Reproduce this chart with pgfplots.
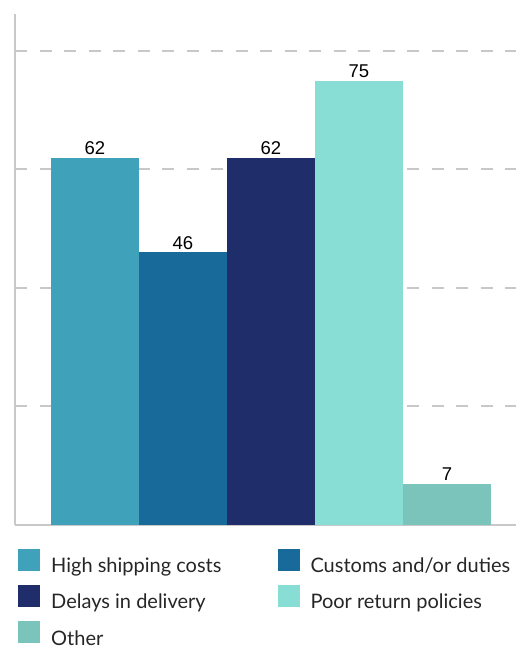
\documentclass[border=0pt]{standalone}
\usepackage{pgfplots}
\pgfplotsset{compat=1.18}
\usepackage{fontspec}
\setmainfont{Lato}
\newfontfamily\numfont{Liberation Sans}
\definecolor{c1}{HTML}{40A1BA}
\definecolor{c2}{HTML}{186A9A}
\definecolor{c3}{HTML}{1F2E6B}
\definecolor{c4}{HTML}{88DDD5}
\definecolor{c5}{HTML}{7AC4BC}
\definecolor{axgray}{HTML}{C8C8C8}
\begin{document}
\begin{tikzpicture}
\path[use as bounding box] (0,0) rectangle (516bp,648bp);
\begin{axis}[
  at={(15bp,123bp)}, anchor=south west,
  x=88bp, y=5.925bp,
  xmin=-0.909, xmax=4.78, ymin=0, ymax=86.2,
  axis x line=bottom, axis y line=left,
  axis line style={-, draw=axgray, line width=2.2bp},
  xtick=\empty,
  ytick={20,40,60,80}, yticklabels={}, major tick length=0pt,
  ymajorgrids,
  grid style={draw=axgray, line width=2bp, dash pattern=on 12bp off 12.5bp},
  /pgf/number format/assume math mode=true,
  nodes near coords,
  nodes near coords style={font=\numfont\fontsize{18.5bp}{20bp}\selectfont, text=black, anchor=south, inner sep=3bp},
  legend columns=2,
  legend cell align=left,
  legend image code/.code={\fill[#1] (0bp,-5bp) rectangle (22bp,17bp);},
  legend style={at={(0.006,-0.047)}, anchor=north west, draw=none, fill=none,
    inner sep=0pt, font=\fontsize{20bp}{24bp}\selectfont, text=black!85,
    nodes={inner sep=0pt},
    column sep=11bp, row sep=11bp,
    /tikz/every even column/.append style={column sep=56bp}},
]
\addplot[ybar, bar width=88bp, bar shift=0pt, fill=c1, draw=none] coordinates {(0,62)};
\addlegendentry{High shipping costs}
\addplot[ybar, bar width=88bp, bar shift=0pt, fill=c2, draw=none] coordinates {(1,46)};
\addlegendentry{Customs and/or duties}
\addplot[ybar, bar width=88bp, bar shift=0pt, fill=c3, draw=none] coordinates {(2,62)};
\addlegendentry{Delays in delivery}
\addplot[ybar, bar width=88bp, bar shift=0pt, fill=c4, draw=none] coordinates {(3,75)};
\addlegendentry{Poor return policies}
\addplot[ybar, bar width=88bp, bar shift=0pt, fill=c5, draw=none] coordinates {(4,7)};
\addlegendentry{Other}
\end{axis}
\end{tikzpicture}
\end{document}
